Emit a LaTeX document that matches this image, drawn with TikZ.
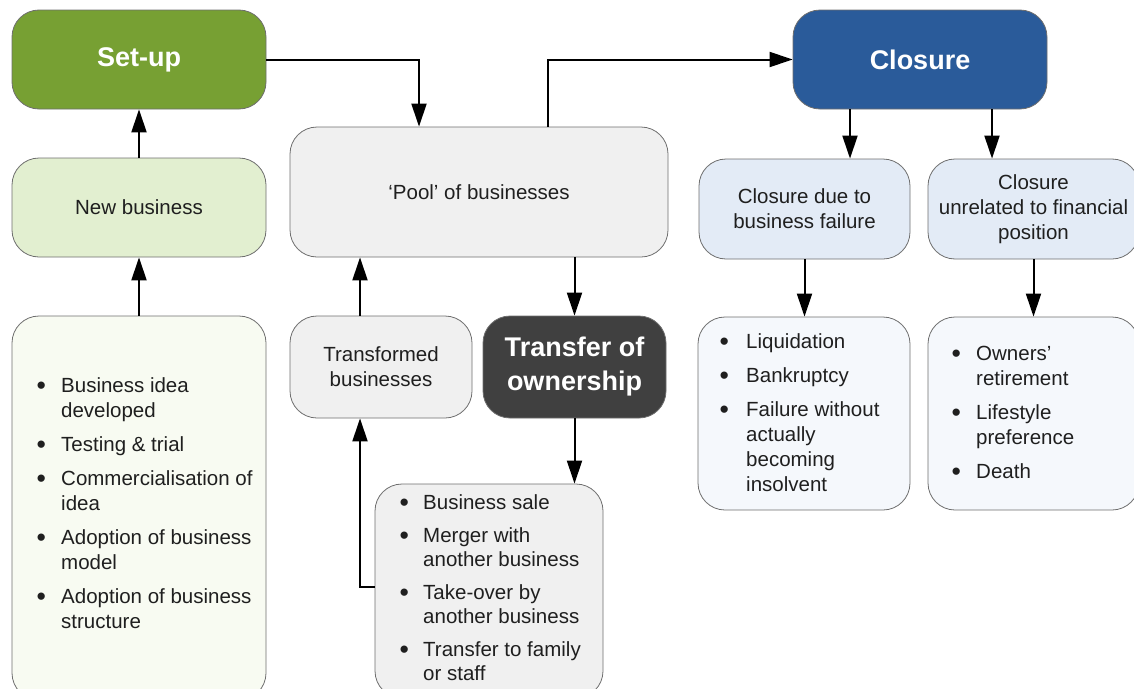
\documentclass[tikz,border=0pt]{standalone}
\usepackage{fontspec}
\setmainfont{Liberation Sans}
\usetikzlibrary{arrows.meta}
\definecolor{setupg}{HTML}{77A033}
\definecolor{closeb}{HTML}{2A5B9A}
\definecolor{newg}{HTML}{E2EFD0}
\definecolor{listg}{HTML}{F8FBF2}
\definecolor{poolgr}{HTML}{F0F0F0}
\definecolor{tofdark}{HTML}{404040}
\definecolor{cblue}{HTML}{E3EBF6}
\definecolor{lblue}{HTML}{F5F8FC}
\definecolor{boxline}{HTML}{6E6E6E}
\newcommand{\blist}[2]{\begin{tabular}[t]{@{}p{#1}@{}l@{}}#2\end{tabular}}
\newcommand{\bl}{\raisebox{-2pt}{\scalebox{1.3}{\textbullet}}}
\tikzset{
  box/.style={draw=boxline, line width=0.8pt, rounded corners=27pt, inner sep=0pt,
    align=center, font=\fontsize{20.5}{25}\selectfont, text=black!88},
  titlebox/.style={box, font=\fontsize{27}{34}\selectfont\bfseries, text=white},
  arr/.style={line width=2pt, -{Triangle[length=23pt,width=15pt]}},
  lst/.style={anchor=base west, inner sep=0pt, font=\fontsize{20.5}{25}\selectfont, text=black!88},
}
\begin{document}
\begin{tikzpicture}[x=1pt,y=-1pt]
\useasboundingbox (0,0) rectangle (1134,688);
\begin{scope}
\clip (0,0) rectangle (1134,688);
% boxes
\node[titlebox, fill=setupg, minimum width=254pt, minimum height=99pt] (setup) at (139,59.5) {Set-up};
\node[titlebox, fill=closeb, minimum width=254pt, minimum height=99pt] (closure) at (920,59.5) {Closure};
\node[box, fill=newg, minimum width=254pt, minimum height=99pt] (new) at (139,207.5) {New business};
\node[box, fill=poolgr, minimum width=378pt, minimum height=130pt] (pool) at (479,192) {‘Pool’ of businesses};
\node[box, fill=cblue, minimum width=211pt, minimum height=100pt] (cdbf) at (804.5,209) {Closure due to\\business failure};
\node[box, fill=cblue, minimum width=211pt, minimum height=100pt] (unrel) at (1033.5,209) {Closure\\unrelated to financial\\position};
\node[box, fill=listg, minimum width=254pt, minimum height=384pt] (leftl) at (139,508) {};
\node[box, fill=poolgr, minimum width=182pt, minimum height=102pt] (trans) at (381,367) {Transformed\\businesses};
\node[titlebox, fill=tofdark, minimum width=183pt, minimum height=102pt] (tof) at (574.5,367) {Transfer of\\ownership};
\node[box, fill=poolgr, minimum width=228pt, minimum height=214pt] (sale) at (489,591) {};
\node[box, fill=lblue, minimum width=212pt, minimum height=193pt] (liq) at (804,413.5) {};
\node[box, fill=lblue, minimum width=211pt, minimum height=193pt] (own) at (1033.5,413.5) {};
% lists
\node[lst] (leftt) at (36.5,392) {\blist{24.5pt}{\bl & Business idea\\ & developed\\[9pt]
  \bl & Testing \& trial\\[9pt]
  \bl & Commercialisation of\\ & idea\\[9pt]
  \bl & Adoption of business\\ & model\\[9pt]
  \bl & Adoption of business\\ & structure}};
\node[lst, font=\fontsize{20.5}{24}\selectfont] (salet) at (399.5,509) {\blist{23.5pt}{\bl & Business sale\\[9pt]
  \bl & Merger with\\ & another business\\[9pt]
  \bl & Take-over by\\ & another business\\[9pt]
  \bl & Transfer to family\\ & or staff}};
\node[lst] (liqt) at (719.5,348) {\blist{26.5pt}{\bl & Liquidation\\[9pt]
  \bl & Bankruptcy\\[9pt]
  \bl & Failure without\\ & actually\\ & becoming\\ & insolvent}};
\node[lst] (ownt) at (951.5,360) {\blist{24.5pt}{\bl & Owners’\\ & retirement\\[9pt]
  \bl & Lifestyle\\ & preference\\[9pt]
  \bl & Death}};
% helper coordinates
\coordinate (xin) at (419,0);
\coordinate (xout) at (548,0);
\coordinate (xtr) at (360,0);
\coordinate (ysale) at (0,587);
\coordinate (xc1) at (850,0);
\coordinate (xc2) at (992,0);
% connectors
\draw[arr] (setup.east) -| (xin |- pool.north);
\draw[arr] (xout |- pool.north) |- (closure.west);
\draw[arr] (new.north) -- (setup.south);
\draw[arr] (leftl.north) -- (new.south);
\draw[arr] (xtr |- trans.north) -- (xtr |- pool.south);
\draw[arr] (tof.north |- pool.south) -- (tof.north);
\draw[arr] (tof.south) -- (tof.south |- sale.north);
\draw[arr] (sale.west |- ysale) -| (xtr |- trans.south);
\draw[arr] (xc1 |- closure.south) -- (xc1 |- cdbf.north);
\draw[arr] (xc2 |- closure.south) -- (xc2 |- unrel.north);
\draw[arr] (cdbf.south) -- (cdbf.south |- liq.north);
\draw[arr] (unrel.south) -- (unrel.south |- own.north);
\end{scope}
\end{tikzpicture}
\end{document}
